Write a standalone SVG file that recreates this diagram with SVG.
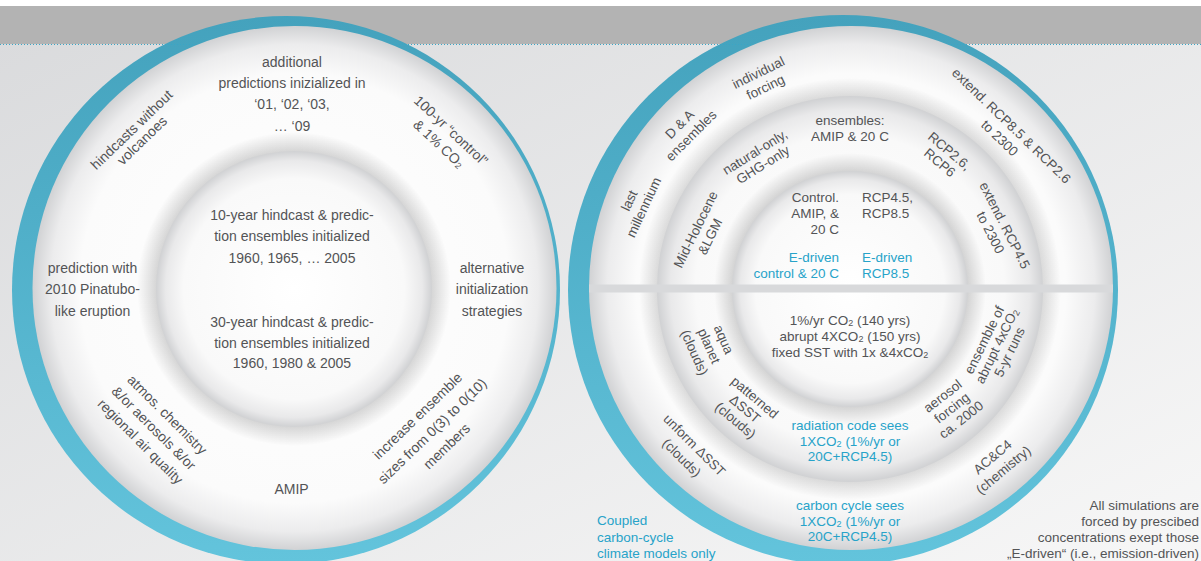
<svg xmlns="http://www.w3.org/2000/svg" width="1201" height="561" viewBox="0 0 1201 561">
<defs>
<linearGradient id="bg" x1="0" y1="0" x2="1" y2="1">
<stop offset="0" stop-color="#d9dadc"/>
<stop offset="1" stop-color="#f7f7f7"/>
</linearGradient>
<linearGradient id="ring" x1="0" y1="0" x2="0" y2="1">
<stop offset="0" stop-color="#44a2bd"/>
<stop offset="1" stop-color="#63c4dc"/>
</linearGradient>
<radialGradient id="disc" cx="0.5" cy="0.5" r="0.5">
<stop offset="0" stop-color="#ffffff"/>
<stop offset="0.82" stop-color="#fbfbfb"/>
<stop offset="0.93" stop-color="#ececed"/>
<stop offset="1" stop-color="#d1d2d4"/>
</radialGradient>
<radialGradient id="disc2" cx="0.5" cy="0.5" r="0.5">
<stop offset="0" stop-color="#ffffff"/>
<stop offset="0.8" stop-color="#f9f9f9"/>
<stop offset="0.93" stop-color="#e9e9ea"/>
<stop offset="1" stop-color="#d0d1d3"/>
</radialGradient>
<radialGradient id="shL" cx="0.5" cy="0.5" r="0.5">
<stop offset="0.88" stop-color="#000" stop-opacity="0.15"/>
<stop offset="1" stop-color="#000" stop-opacity="0"/>
</radialGradient>
<radialGradient id="shM" cx="0.5" cy="0.5" r="0.5">
<stop offset="0.915" stop-color="#000" stop-opacity="0.13"/>
<stop offset="1" stop-color="#000" stop-opacity="0"/>
</radialGradient>
<radialGradient id="shI" cx="0.5" cy="0.5" r="0.5">
<stop offset="0.87" stop-color="#000" stop-opacity="0.15"/>
<stop offset="1" stop-color="#000" stop-opacity="0"/>
</radialGradient>
<style>
text{font-family:"Liberation Sans",Arial,sans-serif;font-size:13.5px;dominant-baseline:central}
.L text{font-size:14px}
.g{fill:#535456}
.b{fill:#27a3c9}
.m{text-anchor:middle}
.e{text-anchor:end}
.sub{font-size:9px}
</style>
</defs>

<g id="background">
<rect x="0" y="0" width="1201" height="561" fill="url(#bg)"/>
<rect x="0" y="0" width="1201" height="6" fill="#ffffff"/>
<rect x="0" y="6" width="1201" height="38" fill="#b3b3b3"/>
</g>

<g id="rings">
<circle cx="286" cy="290" r="274" fill="url(#ring)"/>
<circle cx="843" cy="290" r="275" fill="url(#ring)"/>
</g>
<line x1="0" y1="44.5" x2="1201" y2="44.5" stroke="#3aa6c6" stroke-width="1" stroke-dasharray="1 2"/>

<g id="left-circle">
<circle cx="294.5" cy="288" r="262" fill="url(#disc)"/>
<circle cx="294" cy="289" r="157" fill="url(#shL)"/>
<circle cx="294" cy="289" r="138" fill="url(#disc2)"/>
</g>

<g id="right-circle">
<circle cx="851" cy="288" r="262" fill="url(#disc)"/>
<circle cx="850" cy="289" r="211" fill="url(#shM)"/>
<circle cx="850" cy="289" r="193" fill="url(#disc2)"/>
<circle cx="850" cy="289" r="136" fill="url(#shI)"/>
<circle cx="850" cy="289" r="118" fill="url(#disc2)"/>
<rect x="589" y="284.5" width="524" height="8" fill="#d8d9db"/>
</g>

<!-- left circle labels -->
<g class="L">
<g id="n-additional">
<text class="g m" x="292" y="62">additional</text>
<text class="g m" x="292" y="83">predictions inizialized in</text>
<text class="g m" x="292" y="104">‘01, ‘02, ‘03,</text>
<text class="g m" x="292" y="126">… ‘09</text>
</g>
<g id="n-10year">
<text class="g m" x="292" y="215">10-year hindcast &amp; predic-</text>
<text class="g m" x="292" y="236">tion ensembles initialized</text>
<text class="g m" x="292" y="258">1960, 1965, … 2005</text>
</g>
<g id="n-30year">
<text class="g m" x="292" y="322">30-year hindcast &amp; predic-</text>
<text class="g m" x="292" y="343">tion ensembles initialized</text>
<text class="g m" x="292" y="363">1960, 1980 &amp; 2005</text>
</g>
<g id="n-pinatubo">
<text class="g m" x="92.5" y="268">prediction with</text>
<text class="g m" x="92.5" y="289">2010 Pinatubo-</text>
<text class="g m" x="92.5" y="311">like eruption</text>
</g>
<g id="n-alternative">
<text class="g m" x="492" y="268">alternative</text>
<text class="g m" x="492" y="289">initialization</text>
<text class="g m" x="492" y="311">strategies</text>
</g>
<g id="n-amip">
<text class="g m" x="291.5" y="489">AMIP</text>
</g>
<g id="n-hindcasts" transform="translate(136.7,135) rotate(-44)">
<text class="g m" x="0" y="-7.5">hindcasts without</text>
<text class="g m" x="0" y="7.5">volcanoes</text>
</g>
<g id="n-control" transform="translate(445,137) rotate(43)">
<text class="g m" x="0" y="-9">100-yr “control”</text>
<text class="g m" x="0" y="9">&amp; 1% CO<tspan class="sub" dy="3">2</tspan></text>
</g>
<g id="n-atmos" transform="translate(154,428) rotate(45)">
<text class="g m" x="0" y="-19">atmos. chemistry</text>
<text class="g m" x="0" y="0">&amp;/or aerosols &amp;/or</text>
<text class="g m" x="0" y="19">regional air quality</text>
</g>
<g id="n-increase" transform="translate(432,431) rotate(-44)">
<text class="g m" x="0" y="-21">increase ensemble</text>
<text class="g m" x="0" y="0">sizes from 0(3) to 0(10)</text>
<text class="g m" x="0" y="21">members</text>
</g>
</g>

<!-- right circle labels -->
<g id="n-individual" transform="translate(762,80) rotate(-26)">
<text class="g m" x="0" y="-8">individual</text>
<text class="g m" x="0" y="8">forcing</text>
</g>
<g id="n-da" transform="translate(685.5,130) rotate(-45)">
<text class="g m" x="0" y="-8">D &amp; A</text>
<text class="g m" x="0" y="8">ensembles</text>
</g>
<g id="n-last" transform="translate(636.5,204) rotate(-65)">
<text class="g m" x="0" y="-8">last</text>
<text class="g m" x="0" y="8">millennium</text>
</g>
<g id="n-natural" transform="translate(759,158.5) rotate(-32)">
<text class="g m" x="0" y="-7.5">natural-only,</text>
<text class="g m" x="0" y="7.5">GHG-only</text>
</g>
<g id="n-midholocene" transform="translate(703,233) rotate(-64)">
<text class="g m" x="0" y="-8">Mid-Holocene</text>
<text class="g m" x="0" y="8">&amp;LGM</text>
</g>
<g id="n-ensembles">
<text class="g m" x="850" y="120.5">ensembles:</text>
<text class="g m" x="850" y="136.5">AMIP &amp; 20 C</text>
</g>
<g id="n-extend85" transform="translate(1005.5,132) rotate(44)">
<text class="g m" x="0" y="-8.5">extend. RCP8.5 &amp; RCP2.6</text>
<text class="g m" x="0" y="8.5">to 2300</text>
</g>
<g id="n-rcp26" transform="translate(944.5,157) rotate(40)">
<text class="g m" x="0" y="-7.5">RCP2.6,</text>
<text class="g m" x="0" y="7.5">RCP6</text>
</g>
<g id="n-extend45" transform="translate(997.5,229) rotate(63)">
<text class="g m" x="0" y="-8">extend. RCP4.5</text>
<text class="g m" x="0" y="8">to 2300</text>
</g>
<g id="n-core-control">
<text class="g e" x="839" y="197">Control.</text>
<text class="g e" x="839" y="213">AMIP, &amp;</text>
<text class="g e" x="839" y="229">20 C</text>
</g>
<g id="n-core-rcp">
<text class="g" x="862" y="197">RCP4.5,</text>
<text class="g" x="862" y="213">RCP8.5</text>
</g>
<g id="n-edriven-control">
<text class="b e" x="839" y="257">E-driven</text>
<text class="b e" x="839" y="273">control &amp; 20 C</text>
</g>
<g id="n-edriven-rcp">
<text class="b" x="862" y="257">E-driven</text>
<text class="b" x="862" y="273">RCP8.5</text>
</g>
<g id="n-core-co2">
<text class="g m" x="850" y="320">1%/yr CO<tspan class="sub" dy="3">2</tspan><tspan dy="-3"> (140 yrs)</tspan></text>
<text class="g m" x="850" y="336">abrupt 4XCO<tspan class="sub" dy="3">2</tspan><tspan dy="-3"> (150 yrs)</tspan></text>
<text class="g m" x="850" y="352">fixed SST with 1x &amp;4xCO<tspan class="sub" dy="3">2</tspan></text>
</g>
<g id="n-radiation">
<text class="b m" x="850" y="425">radiation code sees</text>
<text class="b m" x="850" y="441">1XCO<tspan class="sub" dy="3">2</tspan><tspan dy="-3"> (1%/yr or</tspan></text>
<text class="b m" x="850" y="456">20C+RCP4.5)</text>
</g>
<g id="n-carbon">
<text class="b m" x="850" y="505">carbon cycle sees</text>
<text class="b m" x="850" y="521">1XCO<tspan class="sub" dy="3">2</tspan><tspan dy="-3"> (1%/yr or</tspan></text>
<text class="b m" x="850" y="536">20C+RCP4.5)</text>
</g>
<g id="n-aqua" transform="translate(709,346) rotate(66)">
<text class="g m" x="0" y="-16">aqua</text>
<text class="g m" x="0" y="0">planet</text>
<text class="g m" x="0" y="16">(clouds)</text>
</g>
<g id="n-patterned" transform="translate(745,409) rotate(40)">
<text class="g m" x="0" y="-15">patterned</text>
<text class="g m" x="0" y="0">ΔSST</text>
<text class="g m" x="0" y="15">(clouds)</text>
</g>
<g id="n-unform" transform="translate(688,451.5) rotate(45)">
<text class="g m" x="0" y="-9">unform ΔSST</text>
<text class="g m" x="0" y="9">(clouds)</text>
</g>
<g id="n-abrupt" transform="translate(997,346) rotate(-64)">
<text class="g m" x="0" y="-14">ensemble of</text>
<text class="g m" x="0" y="0">abrupt 4xCO<tspan class="sub" dy="3">2</tspan></text>
<text class="g m" x="0" y="14">5-yr runs</text>
</g>
<g id="n-aerosol" transform="translate(952,408) rotate(-38)">
<text class="g m" x="0" y="-15">aerosol</text>
<text class="g m" x="0" y="0">forcing</text>
<text class="g m" x="0" y="15">ca. 2000</text>
</g>
<g id="n-acc4" transform="translate(998,463.5) rotate(-40)">
<text class="g m" x="0" y="-8.5">AC&amp;C4</text>
<text class="g m" x="0" y="8.5">(chemistry)</text>
</g>

<!-- notes -->
<g id="n-coupled">
<text class="b" x="597" y="520">Coupled</text>
<text class="b" x="597" y="537">carbon-cycle</text>
<text class="b" x="597" y="553">climate models only</text>
</g>
<g id="n-note">
<text class="g e" x="1199" y="505">All simulations are</text>
<text class="g e" x="1199" y="521">forced by prescibed</text>
<text class="g e" x="1199" y="537">concentrations exept those</text>
<text class="g e" x="1199" y="553">„E-driven“ (i.e., emission-driven)</text>
</g>
</svg>
